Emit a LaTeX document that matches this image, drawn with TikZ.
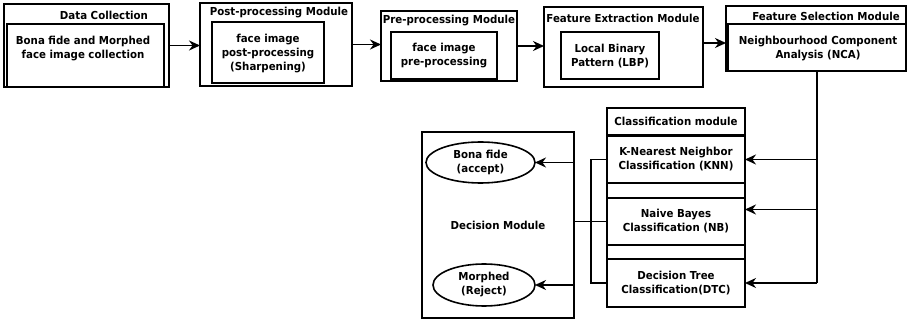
\documentclass[tikz,border=0pt]{standalone}
\usepackage{fontspec}
\setmainfont{DejaVu Sans}[FakeStretch=0.93]
\usetikzlibrary{calc,arrows.meta,shapes.geometric}

\begin{document}
\begin{tikzpicture}[x=1pt,y=-1pt,
  box/.style={draw,line width=1.6pt,inner sep=0pt,outer sep=0pt},
  txt/.style={align=center,inner sep=0pt,font=\bfseries\fontsize{11}{14}\selectfont},
  link/.style={line width=1.6pt},
  arr/.style={line width=1.6pt,-{Stealth[length=11pt,width=10pt]}}]
\useasboundingbox (0,0) rectangle (907,320);

% top row of modules
\node[box,minimum width=165pt,minimum height=83pt] (dcout) at (86.5,45.5) {};
\node[box,minimum width=157pt,minimum height=63pt] (dcin) at (85.5,55.5) {};
\node[txt] (dctitle) at (104,15) {Data Collection};
\node[txt] (dctext) at (83,49) {Bona fide and Morphed\\face image collection};

\node[box,minimum width=152pt,minimum height=83pt] (ppout) at (276,44.5) {};
\node[box,minimum width=112pt,minimum height=61pt] (ppin) at (268,52.5) {};
\node[txt] (pptitle) at (279,13) {Post-processing Module};
\node[txt] (pptext) at (268,54) {face image\\post-processing\\(Sharpening)};

\node[box,minimum width=136pt,minimum height=70pt] (preout) at (449,46) {};
\node[box,minimum width=106pt,minimum height=47pt] (prein) at (444,55.5) {};
\node[txt] (pretitle) at (449,21) {Pre-processing Module};
\node[txt] (pretext) at (444,56) {face image\\pre-processing};

\node[box,minimum width=159pt,minimum height=80pt] (feout) at (623.5,47) {};
\node[box,minimum width=98pt,minimum height=47pt] (fein) at (610,55.5) {};
\node[txt] (fetitle) at (623,18) {Feature Extraction Module};
\node[txt] (fetext) at (610,56) {Local Binary\\Pattern (LBP)};

\node[box,minimum width=180pt,minimum height=65pt] (fsout) at (816,38.5) {};
\node[box,minimum width=178pt,minimum height=47pt] (fsin) at (817,47.5) {};
\node[txt] (fstitle) at (826,16) {Feature Selection Module};
\node[txt] (fstext) at (818,49) {Neighbourhood Component\\Analysis (NCA)};

\draw[arr] (dcout.east) -- (dcout.east -| ppout.west);
\draw[arr] (ppout.east) -- (ppout.east -| preout.west);
\draw[arr] (preout.east) -- (preout.east -| feout.west);
\draw[arr] ([yshift=4pt]feout.east) -- ([yshift=4pt]feout.east -| fsout.west);

% classification
\node[box,minimum width=138pt,minimum height=199pt] (clsout) at (676,207.5) {};
\node[box,txt,minimum width=138pt,minimum height=27pt] (clstitle) at (676,121.5) {Classification module};
\node[box,txt,minimum width=138pt,minimum height=47pt] (knn) at (676,159.5) {K-Nearest Neighbor\\Classification (KNN)};
\node[box,txt,minimum width=138pt,minimum height=47pt] (nb) at (676,221.5) {Naive Bayes\\Classification (NB)};
\node[box,txt,minimum width=138pt,minimum height=48pt] (dtc) at (676,283) {Decision Tree\\Classification(DTC)};

\coordinate (busr) at (fsin.south |- dtc.east);
\draw[link] (fsin.south) -- (busr);
\draw[arr] (fsin.south |- knn.east) -- (knn.east);
\draw[arr] ([yshift=12pt]nb.east -| fsin.south) -- ([yshift=12pt]nb.east);
\draw[arr] (busr) -- (dtc.east);

% decision
\node[box,txt,minimum width=152pt,minimum height=186pt] (dm) at (498,225) {Decision Module};
\node[box,txt,ellipse,minimum width=109pt,minimum height=41pt] (bona) at (480.5,162.5) {Bona fide\\(accept)};
\node[box,txt,ellipse,minimum width=102pt,minimum height=42pt] (morph) at (484,285) {Morphed\\(Reject)};

\draw[link] (knn.west) -- ++(-16,0) |- (dtc.west);
\draw[link] (dm.east |- nb.west) -- (nb.west);
\draw[arr] (dm.east |- bona.east) -- (bona.east);
\draw[arr] (dm.east |- morph.east) -- (morph.east);
\end{tikzpicture}
\end{document}
